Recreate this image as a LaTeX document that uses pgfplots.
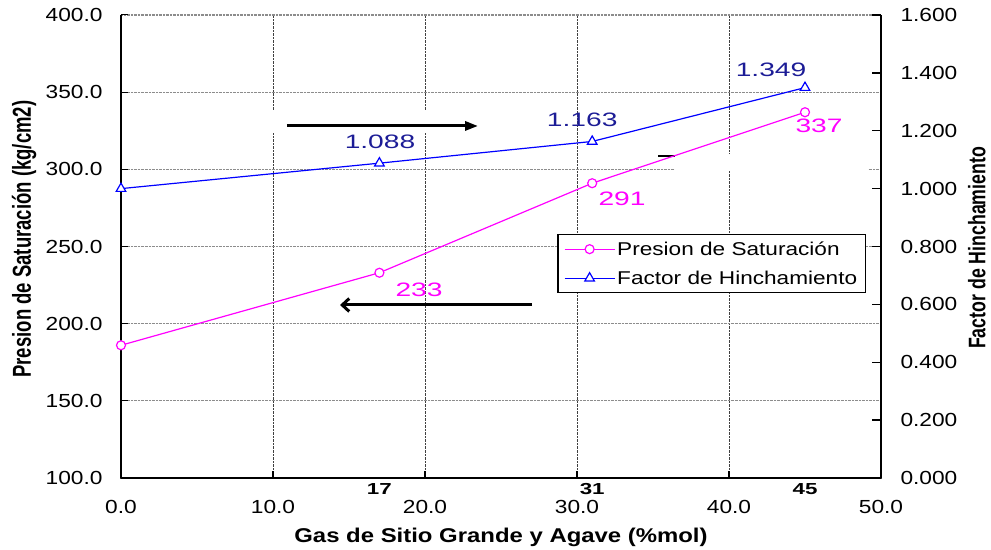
\documentclass[border=0pt]{standalone}
\usepackage{fontspec}
\setmainfont{Liberation Sans}
\usepackage{graphicx}
\usepackage{pgfplots}
\pgfplotsset{compat=1.18}
\usetikzlibrary{arrows.meta}
\definecolor{pinkc}{RGB}{255,0,255}
\definecolor{bluec}{RGB}{0,0,255}
\definecolor{navyc}{RGB}{28,28,150}
\newcommand{\tickfont}{\fontsize{19}{22}\selectfont}
\newcommand{\lblfont}{\fontsize{19.5}{22}\selectfont}
\begin{document}
\begin{tikzpicture}
\begin{axis}[
  scale only axis, width=760bp, height=463bp,
  xmin=0, xmax=50, ymin=100, ymax=400,
  clip=false,
  axis x line*=bottom, axis y line*=left,
  axis line style={-, line width=2bp, black},
  xtick={0,10,20,30,40,50},
  ytick={100,150,200,250,300,350,400},
  tick align=inside, major tick length=7bp,
  xtick style={line width=2bp, black},
  ytick style={line width=1bp, black},
  xmajorgrids, ymajorgrids,
  x grid style={densely dotted, black!75, line width=1bp},
  y grid style={densely dotted, black!45, line width=1.2bp},
  /pgf/number format/assume math mode=true,
  xticklabel={\scalebox{1.2}[1]{\pgfmathprintnumber[fixed,fixed zerofill,precision=1]{\tick}}},
  yticklabel={\scalebox{1.2}[1]{\pgfmathprintnumber[fixed,fixed zerofill,precision=1]{\tick}}},
  xticklabel style={font=\tickfont, yshift=-19bp},
  yticklabel style={font=\tickfont, xshift=-15bp},
  extra x ticks={17,31,45},
  extra x tick labels={\scalebox{1.4}[1]{\textbf{17}},\scalebox{1.4}[1]{\textbf{31}},\scalebox{1.4}[1]{\textbf{45}}},
  extra x tick style={grid=none, major tick length=0pt, xticklabel style={font=\fontsize{16}{18}\selectfont, yshift=17bp}},
  xlabel={\scalebox{1.2}[1]{\textbf{Gas de Sitio Grande y Agave (\%mol)}}},
  every axis x label/.style={at={(axis description cs:0.5,0)}, anchor=center, yshift=-59bp, font=\fontsize{20}{24}\selectfont},
  ylabel={\scalebox{1}[1.4]{\textbf{Presion de Saturación (kg/cm2)}}},
  every axis y label/.style={at={(axis description cs:-0.1276,0.516)}, anchor=center, rotate=90, font=\fontsize{18.6}{22}\selectfont},
]
\fill[white] (axis cs:9.67,323.5) rectangle (axis cs:23.6,338.4);
\fill[white] (axis cs:36.45,298.9) rectangle (axis cs:49.14,309.9);
\draw[line width=2bp] (axis cs:35.33,308.6) -- (axis cs:36.45,308.6);
\addplot[pinkc, line width=1.2bp, mark=*, mark size=4.5bp, mark options={solid, fill=white}] coordinates {(0,186) (17,233) (31,291) (45,337)};
\node[text=pinkc, font=\lblfont, xshift=39.6bp, yshift=-17.3bp] at (axis cs:17,233) {\scalebox{1.45}[1]{233}};
\node[text=pinkc, font=\lblfont, xshift=29.8bp, yshift=-15.8bp] at (axis cs:31,291) {\scalebox{1.45}[1]{291}};
\node[text=pinkc, font=\lblfont, xshift=14bp, yshift=-13.8bp] at (axis cs:45,337) {\scalebox{1.45}[1]{337}};
\draw[line width=3bp, -{Triangle[length=13bp,width=9bp]}] (axis cs:10.92,328.1) -- (axis cs:23.49,328.1);
\draw[line width=3bp, -{Straight Barb[length=7bp,width=13bp]}] (axis cs:27.04,212.1) -- (axis cs:14.41,212.1);
\end{axis}
\begin{axis}[
  scale only axis, width=760bp, height=463bp,
  xmin=0, xmax=50, ymin=0, ymax=1.6, clip=false,
  axis x line=none, axis y line*=right,
  axis line style={-, line width=2bp, black},
  ytick={0,0.2,0.4,0.6,0.8,1.0,1.2,1.4,1.6},
  tick align=inside, major tick length=9bp,
  ytick style={line width=1.5bp, black},
  /pgf/number format/assume math mode=true,
  yticklabel={\scalebox{1.2}[1]{\pgfmathprintnumber[fixed,fixed zerofill,precision=3]{\tick}}},
  yticklabel style={font=\tickfont, xshift=16bp},
  ylabel={\scalebox{1}[1.35]{\textbf{Factor de Hinchamiento}}},
  every axis y label/.style={at={(axis description cs:1.126,0.497)}, anchor=center, rotate=90, font=\fontsize{17.8}{20}\selectfont},
  legend style={at={(0.980,0.527)}, anchor=north east, draw=black, line width=1.2bp, fill=white,
    font=\fontsize{18.6}{20}\selectfont, inner xsep=6bp, inner ysep=5bp, row sep=10bp},
  legend cell align=left,
  legend image code/.code={\draw[mark repeat=2,mark phase=2,#1] plot coordinates {(0bp,0bp) (25bp,0bp) (50bp,0bp)};},
]
\addlegendimage{pinkc, line width=1.2bp, mark=*, mark size=4.5bp, mark options={solid, fill=white}}
\addlegendentry{\scalebox{1.22}[1]{Presion de Saturación}}
\addplot[bluec, line width=1.2bp, mark=triangle*, mark size=5.5bp, mark options={solid, fill=white}] coordinates {(0,1.000) (17,1.088) (31,1.163) (45,1.349)};
\addlegendentry{\scalebox{1.22}[1]{Factor de Hinchamiento}}
\node[text=navyc, font=\lblfont, xshift=0.6bp, yshift=21.2bp] at (axis cs:17,1.088) {\scalebox{1.45}[1]{1.088}};
\node[text=navyc, font=\lblfont, xshift=-10bp, yshift=21.5bp] at (axis cs:31,1.163) {\scalebox{1.45}[1]{1.163}};
\node[text=navyc, font=\lblfont, xshift=-34bp, yshift=17.6bp] at (axis cs:45,1.349) {\scalebox{1.45}[1]{1.349}};
\end{axis}
\pgfresetboundingbox
\path (-121bp,-72bp) rectangle (870bp,478bp);
\end{tikzpicture}
\end{document}
